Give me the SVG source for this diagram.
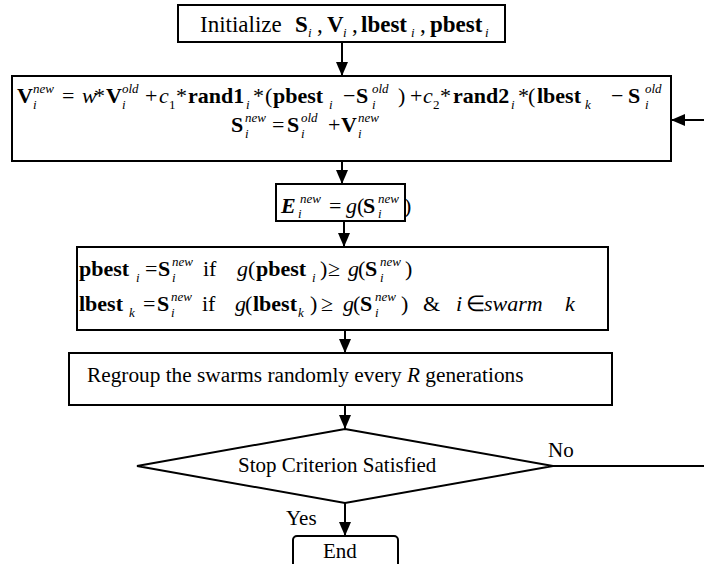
<svg xmlns="http://www.w3.org/2000/svg" width="704" height="564" viewBox="0 0 704 564">
  <style>
    text { font-family: "Liberation Serif", "Times New Roman", serif; fill: #000; }
    .t { font-size: 22px; }
    .b { font-weight: bold; }
    .it { font-style: italic; }
    .s { font-size: 13px; font-style: italic; }
    .n { font-size: 13px; }
    .box { fill: #fff; stroke: #000; stroke-width: 2; }
    .ln { fill: none; stroke: #000; stroke-width: 2; }
  </style>
  <defs>
    <marker id="ah" viewBox="0 0 14 12" refX="14" refY="6" markerWidth="14" markerHeight="12" markerUnits="userSpaceOnUse" orient="auto">
      <path d="M0,0 L14,6 L0,12 Z" fill="#000"/>
    </marker>
    <clipPath id="clipUpd"><rect x="12" y="76" width="659" height="85"/></clipPath>
  </defs>

  <!-- connectors -->
  <g id="connectors">
    <path class="ln" d="M342,42 V76" marker-end="url(#ah)"/>
    <path class="ln" d="M342,161 V184" marker-end="url(#ah)"/>
    <path class="ln" d="M344,221 V247" marker-end="url(#ah)"/>
    <path class="ln" d="M345,330 V353" marker-end="url(#ah)"/>
    <path class="ln" d="M345,405 V429" marker-end="url(#ah)"/>
    <path class="ln" d="M345,503 V536" marker-end="url(#ah)"/>
    <path class="ln" d="M553,466 H704"/>
    <path class="ln" d="M704,120 H671" marker-end="url(#ah)"/>
    <text x="548" y="457" font-size="21">No</text>
    <text x="286" y="525" font-size="21">Yes</text>
  </g>

  <!-- initialisation -->
  <g id="init">
    <rect class="box" x="178" y="5" width="327" height="37"/>
    <text font-size="23" y="32">
      <tspan x="200">Initialize</tspan>
      <tspan x="295" class="b">S</tspan>
      <tspan x="317">,</tspan>
      <tspan x="327" class="b">V</tspan>
      <tspan x="352">,</tspan>
      <tspan x="361" class="b">lbest</tspan>
      <tspan x="420">,</tspan>
      <tspan x="430" class="b">pbest</tspan>
    </text>
    <text class="s" y="37"><tspan x="308">i</tspan><tspan x="343">i</tspan><tspan x="411">i</tspan><tspan x="485">i</tspan></text>
  </g>

  <!-- velocity / position update -->
  <g id="update">
    <rect class="box" x="12" y="76" width="659" height="85"/>
    <g clip-path="url(#clipUpd)">
      <text class="t" y="103">
        <tspan x="17" class="b">V</tspan>
        <tspan x="62">=</tspan>
        <tspan x="82" class="it">w</tspan>
        <tspan x="94">*</tspan>
        <tspan x="106" class="b">V</tspan>
        <tspan x="145">+</tspan>
        <tspan x="159" class="it">c</tspan>
        <tspan x="176">*</tspan>
        <tspan x="188" class="b">rand1</tspan>
        <tspan x="253">*</tspan>
        <tspan x="265">(</tspan>
        <tspan x="273" class="b">pbest</tspan>
        <tspan x="343">−</tspan>
        <tspan x="356" class="b">S</tspan>
        <tspan x="398">)</tspan>
        <tspan x="410">+</tspan>
        <tspan x="423" class="it">c</tspan>
        <tspan x="440">*</tspan>
        <tspan x="453" class="b">rand2</tspan>
        <tspan x="518">*</tspan>
        <tspan x="528">(</tspan>
        <tspan x="537" class="b">lbest</tspan>
        <tspan x="611">−</tspan>
        <tspan x="628" class="b">S</tspan>
      </text>
      <text class="s" y="93"><tspan x="33">new</tspan><tspan x="122">old</tspan><tspan x="372">old</tspan><tspan x="645">old</tspan></text>
      <text class="s" y="109"><tspan x="33">i</tspan><tspan x="122">i</tspan><tspan x="246">i</tspan><tspan x="329">i</tspan><tspan x="372">i</tspan><tspan x="511">i</tspan><tspan x="585">k</tspan><tspan x="645">i</tspan></text>
      <text class="n" y="109"><tspan x="169">1</tspan><tspan x="433">2</tspan></text>
    </g>
    <text class="t" y="132">
      <tspan x="231" class="b">S</tspan>
      <tspan x="272">=</tspan>
      <tspan x="287" class="b">S</tspan>
      <tspan x="328">+</tspan>
      <tspan x="341" class="b">V</tspan>
    </text>
    <text class="s" y="122"><tspan x="245">new</tspan><tspan x="301">old</tspan><tspan x="358">new</tspan></text>
    <text class="s" y="138"><tspan x="245">i</tspan><tspan x="301">i</tspan><tspan x="358">i</tspan></text>
  </g>

  <!-- fitness evaluation -->
  <g id="evaluate">
    <rect class="box" x="276" y="184" width="129" height="37"/>
    <text class="t" y="213">
      <tspan x="281" class="b it">E</tspan>
      <tspan x="329">=</tspan>
      <tspan x="346" class="it">g</tspan>
      <tspan x="357">(</tspan>
      <tspan x="363" class="b">S</tspan>
      <tspan x="404">)</tspan>
    </text>
    <text class="s" y="203"><tspan x="300">new</tspan><tspan x="378">new</tspan></text>
    <text class="s" y="218"><tspan x="298">i</tspan><tspan x="378">i</tspan></text>
  </g>

  <!-- best-position update -->
  <g id="bests">
    <rect class="box" x="77" y="247" width="531" height="83"/>
    <text class="t" y="276">
      <tspan x="79" class="b">pbest</tspan>
      <tspan x="145">=</tspan>
      <tspan x="158" class="b">S</tspan>
      <tspan x="203">if</tspan>
      <tspan x="237" class="it">g</tspan>
      <tspan x="248">(</tspan>
      <tspan x="256" class="b">pbest</tspan>
      <tspan x="320">)</tspan>
      <tspan x="328">≥</tspan>
      <tspan x="348" class="it">g</tspan>
      <tspan x="358">(</tspan>
      <tspan x="365" class="b">S</tspan>
      <tspan x="405">)</tspan>
    </text>
    <text class="s" y="266"><tspan x="172">new</tspan><tspan x="380">new</tspan></text>
    <text class="s" y="282"><tspan x="136">i</tspan><tspan x="172">i</tspan><tspan x="312">i</tspan><tspan x="380">i</tspan></text>
    <text class="t" y="311">
      <tspan x="79" class="b">lbest</tspan>
      <tspan x="143">=</tspan>
      <tspan x="157" class="b">S</tspan>
      <tspan x="202">if</tspan>
      <tspan x="235" class="it">g</tspan>
      <tspan x="245">(</tspan>
      <tspan x="253" class="b">lbest</tspan>
      <tspan x="310">)</tspan>
      <tspan x="321">≥</tspan>
      <tspan x="343" class="it">g</tspan>
      <tspan x="353">(</tspan>
      <tspan x="360" class="b">S</tspan>
      <tspan x="401">)</tspan>
      <tspan x="423">&amp;</tspan>
      <tspan x="456" class="it">i</tspan>
      <tspan x="466">∈</tspan>
      <tspan x="484" class="it">swarm</tspan>
      <tspan x="565" class="it">k</tspan>
    </text>
    <text class="s" y="301"><tspan x="171">new</tspan><tspan x="375">new</tspan></text>
    <text class="s" y="317"><tspan x="129">k</tspan><tspan x="171">i</tspan><tspan x="298">k</tspan><tspan x="375">i</tspan></text>
  </g>

  <!-- regrouping -->
  <g id="regroup">
    <rect class="box" x="69" y="353" width="543" height="52"/>
    <text x="87" y="382" font-size="21.3">Regroup the swarms randomly every <tspan class="it">R</tspan> generations</text>
  </g>

  <!-- stop test -->
  <g id="stop">
    <polygon class="box" points="345,429 553,466 345,503 137,466"/>
    <text x="238" y="472" font-size="21">Stop Criterion Satisfied</text>
  </g>

  <!-- termination -->
  <g id="end">
    <rect class="box" x="293" y="536" width="105" height="40" rx="4"/>
    <text x="323" y="558" font-size="21">End</text>
  </g>
</svg>
